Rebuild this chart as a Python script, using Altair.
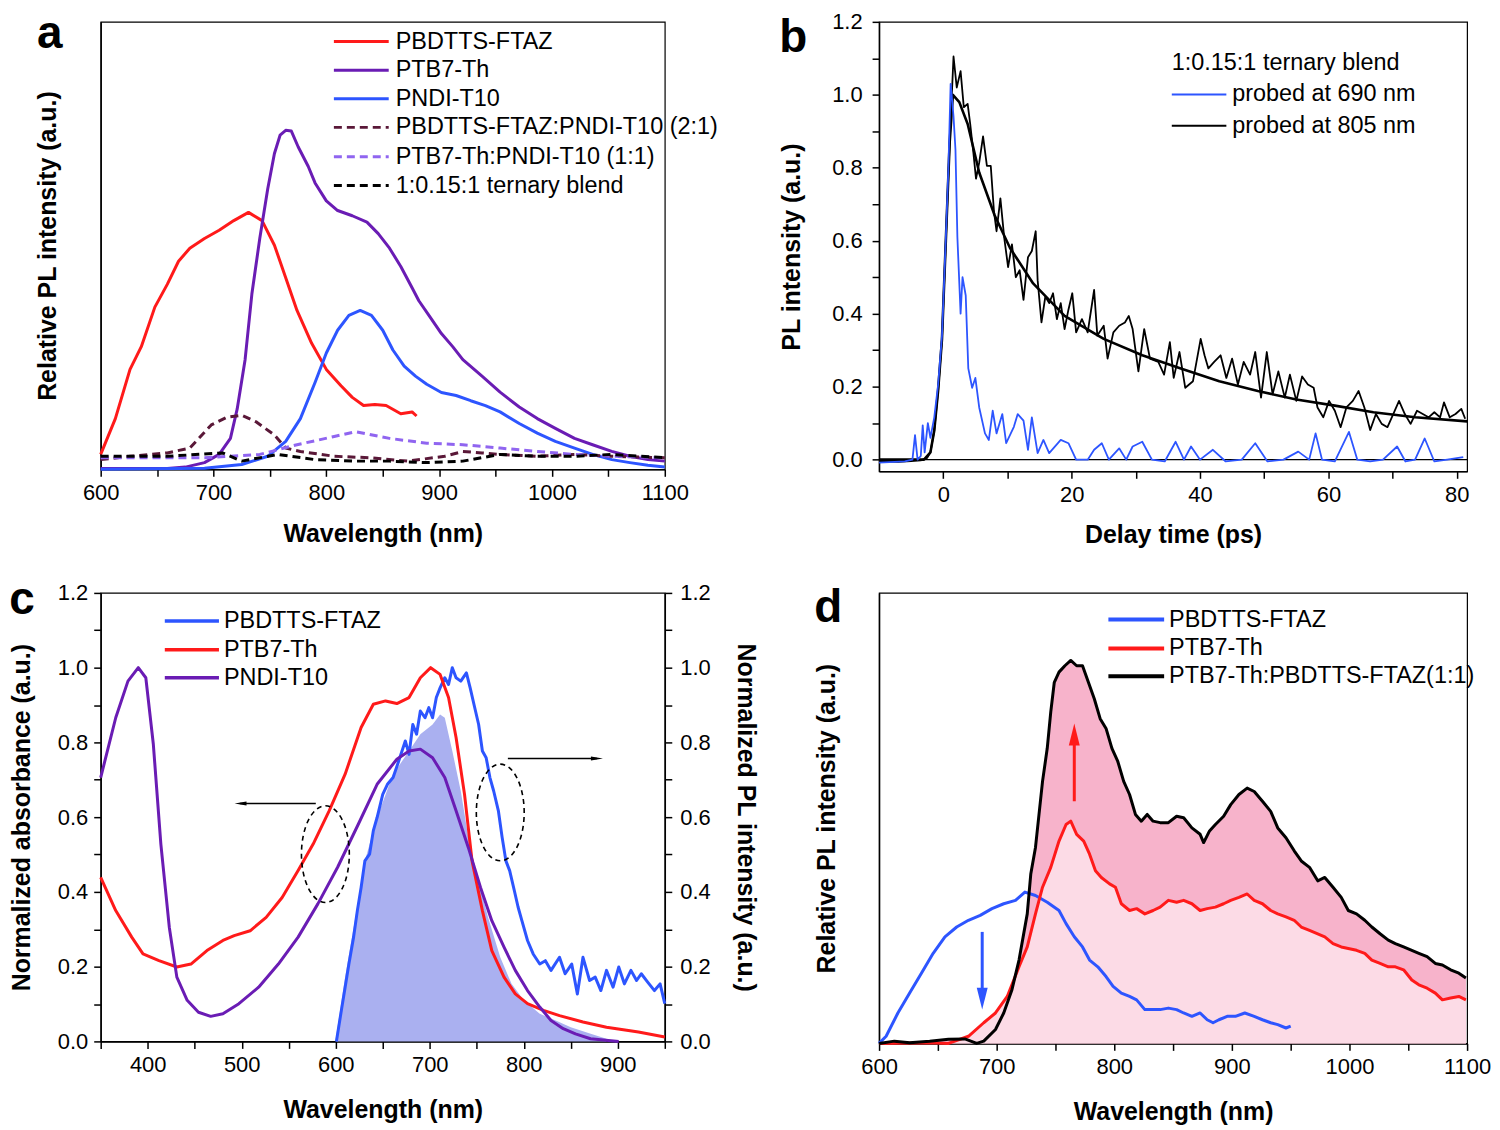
import altair as alt
import pandas as pd

FONT = "Liberation Sans"
RED = "#ff1a1a"
PURPLE = "#6a1cb4"
BLUE = "#2d55ff"
MAROON = "#5a1838"
LPURPLE = "#9065f0"
BLACK = "#000000"
PINK_DARK = "#f7b3cb"
PINK_LIGHT = "#fcdbe6"
LAVENDER = "#aab0f0"

# ---------------- panel a : PL spectra ----------------
A_FTAZ_X = [600, 613, 626, 636, 648, 659, 669, 679, 692, 705, 718, 731, 743, 754, 764, 774, 787, 800, 813, 823, 833, 843, 853, 866, 876, 880]
A_FTAZ_Y = [0.040, 0.136, 0.268, 0.329, 0.435, 0.496, 0.558, 0.593, 0.619, 0.641, 0.667, 0.689, 0.667, 0.601, 0.514, 0.426, 0.338, 0.268, 0.224, 0.193, 0.171, 0.174, 0.171, 0.149, 0.154, 0.143]

A_PTB_X = [600, 659, 675, 692, 705, 715, 721, 728, 734, 741, 748, 754, 759, 764, 769, 775, 784, 790, 800, 810, 823, 836, 846, 856, 866, 876, 882, 892, 902, 912, 921, 938, 954, 971, 987, 1003, 1020, 1036, 1053, 1069, 1085, 1100]
A_PTB_Y = [0.002, 0.002, 0.006, 0.018, 0.040, 0.083, 0.162, 0.294, 0.470, 0.619, 0.751, 0.847, 0.896, 0.909, 0.907, 0.865, 0.812, 0.768, 0.720, 0.694, 0.680, 0.663, 0.632, 0.593, 0.544, 0.487, 0.452, 0.408, 0.364, 0.329, 0.294, 0.250, 0.207, 0.167, 0.136, 0.110, 0.083, 0.066, 0.048, 0.035, 0.026, 0.022]

A_PNDI_X = [600, 692, 725, 748, 764, 777, 790, 800, 810, 820, 830, 840, 850, 859, 869, 879, 889, 902, 915, 928, 941, 954, 971, 987, 1003, 1020, 1036, 1053, 1069, 1085, 1100]
A_PNDI_Y = [0.0, 0.003, 0.013, 0.035, 0.075, 0.136, 0.233, 0.312, 0.373, 0.413, 0.426, 0.413, 0.373, 0.320, 0.277, 0.250, 0.228, 0.206, 0.198, 0.184, 0.171, 0.154, 0.123, 0.097, 0.075, 0.057, 0.040, 0.026, 0.018, 0.011, 0.006]

A_B21_X = [600, 626, 659, 679, 698, 712, 725, 738, 754, 764, 777, 807, 839, 872, 905, 921, 938, 954, 987, 1020, 1053, 1100]
A_B21_Y = [0.026, 0.035, 0.044, 0.057, 0.119, 0.140, 0.145, 0.127, 0.092, 0.057, 0.048, 0.035, 0.031, 0.022, 0.035, 0.048, 0.044, 0.040, 0.035, 0.040, 0.035, 0.031]

A_B11_X = [600, 692, 741, 774, 807, 826, 856, 889, 921, 954, 987, 1020, 1053, 1100]
A_B11_Y = [0.031, 0.031, 0.040, 0.066, 0.088, 0.101, 0.083, 0.070, 0.066, 0.057, 0.048, 0.040, 0.035, 0.031]

A_TER_X = [600, 659, 708, 725, 757, 790, 823, 856, 889, 921, 954, 987, 1020, 1053, 1100]
A_TER_Y = [0.035, 0.035, 0.044, 0.022, 0.040, 0.026, 0.022, 0.022, 0.018, 0.022, 0.040, 0.035, 0.035, 0.040, 0.031]

A_LABELS = ["PBDTTS-FTAZ", "PTB7-Th", "PNDI-T10", "PBDTTS-FTAZ:PNDI-T10 (2:1)", "PTB7-Th:PNDI-T10 (1:1)", "1:0.15:1 ternary blend"]

# ---------------- panel b : PL decay ----------------
B_805_T = [-10, -7, -5, -3.5, -2.5, -2.0, -1.4, -0.8, -0.2, 0.4,
           1.0, 1.6, 2.1, 2.7, 3.2, 3.8, 4.2, 4.7, 5.1, 5.6,
           6.2, 6.8, 7.4, 7.9, 8.3, 8.9, 9.5, 10.1, 10.7, 11.3,
           11.9, 12.5, 13.2, 13.8, 14.4, 14.7, 15.3, 15.9, 16.5, 17.1,
           17.7, 18.3, 18.9, 19.5, 20.1, 20.7, 21.6, 22.5, 23.5, 24.0,
           25.0, 25.6, 26.5, 27.4, 28.3, 28.9, 29.5, 30.4, 31.3, 32.2,
           33.5, 34.4, 35.3, 35.9, 36.8, 37.7, 38.9, 40.1, 40.7, 41.3,
           42.2, 43.2, 44.1, 45.0, 45.9, 46.8, 47.8, 48.6, 49.5, 50.4,
           51.3, 52.2, 53.2, 54.0, 55.0, 55.9, 56.8, 57.7, 58.3, 59.2,
           60.1, 61.0, 61.9, 62.8, 63.8, 64.7, 65.6, 66.5, 67.4, 68.3,
           69.2, 70.1, 71.0, 71.9, 72.8, 73.8, 74.7, 75.6, 76.5, 77.4,
           78.0, 78.9, 79.8, 80.7, 81.3]
B_805_V = [-0.005, -0.006, -0.004, -0.002, 0.005, 0.02, 0.08, 0.19, 0.33, 0.60,
           0.87, 1.105, 1.02, 1.065, 0.966, 0.975, 0.92, 0.84, 0.77, 0.814,
           0.886, 0.805, 0.805, 0.68, 0.626, 0.716, 0.608, 0.528, 0.59, 0.5,
           0.519, 0.438, 0.555, 0.572, 0.626, 0.492, 0.376, 0.447, 0.429, 0.456,
           0.385, 0.429, 0.358, 0.411, 0.456, 0.349, 0.385, 0.349, 0.465, 0.34,
           0.367, 0.277, 0.349, 0.367, 0.376, 0.394, 0.358, 0.242, 0.358, 0.277,
           0.268, 0.233, 0.322, 0.224, 0.295, 0.197, 0.215, 0.331, 0.286, 0.25,
           0.268, 0.286, 0.224, 0.277, 0.206, 0.268, 0.233, 0.295, 0.17, 0.295,
           0.179, 0.242, 0.17, 0.233, 0.161, 0.228, 0.206, 0.197, 0.143, 0.116,
           0.161, 0.134, 0.089, 0.143, 0.161, 0.188, 0.143, 0.081, 0.125, 0.098,
           0.089, 0.125, 0.161, 0.125, 0.098, 0.134, 0.125, 0.116, 0.13, 0.116,
           0.157, 0.116, 0.125, 0.139, 0.112]

B_FIT_T = [-10, -3, -2, -1.4, -0.8, -0.2, 0.4, 1.0, 1.5, 2.5, 3.8, 5.6, 8, 10.4, 14, 18.9, 25, 31, 37, 43, 49, 55, 61, 67, 73.5, 81.6]
B_FIT_V = [0, 0, 0.02, 0.08, 0.19, 0.33, 0.6, 0.87, 1.0, 0.98, 0.92, 0.787, 0.67, 0.58, 0.483, 0.394, 0.331, 0.286, 0.25, 0.215, 0.188, 0.165, 0.148, 0.13, 0.116, 0.105]

B_690_T = [-10, -6, -4.8, -4.4, -4.0, -3.5, -3.2, -2.9, -2.4, -2.0,
           -1.4, -0.8, -0.2, 0.4, 0.8, 1.15, 1.6, 1.9, 2.2, 2.7,
           3.0, 3.5, 3.9, 4.5, 5.0, 5.6, 6.5, 7.1, 7.7, 8.3,
           9.2, 9.8, 11.0, 11.6, 12.5, 13.2, 13.8, 14.7, 15.6, 16.5,
           18.3, 19.5, 20.7, 22.5, 23.5, 24.7, 25.8, 27.4, 28.5, 29.5,
           31.0, 32.5, 34.5, 36.2, 37.5, 38.6, 40.0, 42.0, 44.0, 46.5,
           48.6, 50.5, 53.0, 55.3, 57.0, 58.0, 59.0, 61.0, 63.2, 64.5,
           66.5, 68.5, 70.7, 72.0, 73.5, 75.0, 76.5, 78.5, 81.0]
B_690_V = [-0.008, -0.005, 0.0, 0.067, 0.0, 0.01, 0.094, 0.02, 0.1, 0.06,
           0.116, 0.206, 0.34, 0.608, 0.8, 1.03, 0.94, 0.85, 0.61, 0.40,
           0.50, 0.45, 0.25, 0.197, 0.224, 0.143, 0.072, 0.054, 0.134, 0.072,
           0.125, 0.045, 0.09, 0.125, 0.107, 0.027, 0.116, 0.018, 0.054, 0.018,
           0.054, 0.045, 0.0, 0.0, 0.027, 0.045, 0.0, 0.031, 0.0, 0.036,
           0.049, 0.0, -0.005, 0.049, 0.0, 0.036, 0.0, 0.027, -0.005, 0.0,
           0.045, -0.005, 0.0, 0.022, 0.0, 0.072, 0.0, -0.005, 0.076, 0.0,
           -0.005, 0.0, 0.036, -0.005, 0.0, 0.058, -0.005, 0.0, 0.007]

B_TITLE = "1:0.15:1 ternary blend"
B_LABELS = ["probed at 690 nm", "probed at 805 nm"]

# ---------------- panel c : absorbance and PL ----------------
C_PTB_X = [350, 366, 383, 395, 412, 431, 446, 463, 480, 492, 509, 526, 543, 560, 576, 593, 610, 627, 640, 653,
           665, 678, 690, 701, 711, 720, 728, 737, 745, 756, 766, 779, 791, 804, 821, 838, 863, 888, 922, 950]
C_PTB_Y = [0.439, 0.35, 0.279, 0.234, 0.216, 0.199, 0.207, 0.243, 0.27, 0.283, 0.296, 0.332, 0.385, 0.457, 0.528, 0.617, 0.715, 0.84, 0.902, 0.911,
           0.904, 0.92, 0.973, 1.0, 0.982, 0.92, 0.813, 0.661, 0.483, 0.35, 0.243, 0.172, 0.127, 0.101, 0.083, 0.069, 0.052, 0.038, 0.025, 0.012]

C_PNDI_X = [350, 366, 379, 390, 398, 406, 414, 423, 431, 442, 454, 467, 480, 497, 518, 539, 560, 581, 602, 624,
            644, 665, 678, 690, 703, 716, 728, 741, 754, 766, 779, 791, 804, 817, 829, 842, 855, 871, 901]
C_PNDI_Y = [0.706, 0.866, 0.964, 1.0, 0.973, 0.795, 0.528, 0.305, 0.172, 0.11, 0.078, 0.067, 0.074, 0.101, 0.145, 0.207, 0.279, 0.368, 0.466, 0.581,
            0.688, 0.755, 0.777, 0.782, 0.759, 0.706, 0.617, 0.519, 0.412, 0.323, 0.252, 0.19, 0.136, 0.092, 0.056, 0.034, 0.02, 0.007, 0.0]

C_PL_X = [600.7, 606, 610, 614, 619, 623, 627, 631, 636, 640, 644, 650, 655, 661, 667, 674, 678, 682, 686, 690,
          695, 699, 703, 707, 711, 716, 720, 724, 728, 733, 739, 743, 747, 752, 756, 760, 764, 768, 773, 777,
          781, 785, 790, 794, 798, 804, 810, 817, 823, 829, 838, 844, 851, 857, 863, 870, 876, 882, 888, 895,
          901, 907, 914, 920, 925, 932, 939, 945, 950]
C_PL_Y = [0, 0.083, 0.145, 0.207, 0.279, 0.35, 0.412, 0.483, 0.501, 0.564, 0.599, 0.661, 0.688, 0.706, 0.75, 0.804, 0.768, 0.848, 0.822, 0.884,
          0.866, 0.893, 0.866, 0.92, 0.946, 0.973, 0.955, 1.0, 0.973, 0.964, 0.986, 0.946, 0.902, 0.848, 0.777, 0.759, 0.706, 0.67, 0.617, 0.546,
          0.483, 0.457, 0.403, 0.359, 0.323, 0.27, 0.234, 0.207, 0.216, 0.19, 0.225, 0.181, 0.207, 0.127, 0.225, 0.163, 0.172, 0.136, 0.19, 0.145,
          0.199, 0.154, 0.19, 0.163, 0.181, 0.158, 0.136, 0.154, 0.101]

C_FILL_X = [600, 610, 619, 631, 644, 661, 678, 690, 703, 711, 716, 724, 733, 741, 749, 762, 775, 787, 800, 817, 834, 850, 872, 888]
C_FILL_Y = [0.007, 0.172, 0.305, 0.483, 0.599, 0.715, 0.777, 0.822, 0.848, 0.875, 0.866, 0.777, 0.67, 0.546, 0.457, 0.332, 0.225, 0.154, 0.11, 0.074, 0.056, 0.038, 0.02, 0.007]

C_LABELS = ["PBDTTS-FTAZ", "PTB7-Th", "PNDI-T10"]
C_ELL_X = [589, 775]
C_ELL_Y = [0.501, 0.6125]

# ---------------- panel d : PL spectra ----------------
D_BLEND_X = [600, 613, 626, 643, 659, 673, 683, 689, 699, 706, 713, 719, 726, 729, 733, 736, 739, 743, 746, 749,
             753, 758, 763, 768, 773, 778, 783, 788, 793, 798, 803, 808, 813, 818, 823, 828, 833, 839, 846, 853,
             859, 866, 873, 876, 881, 886, 893, 899, 906, 913, 919, 926, 933, 939, 946, 953, 959, 966, 973, 979,
             986, 993, 999, 1006, 1013, 1019, 1026, 1033, 1039, 1046, 1053, 1059, 1066, 1073, 1079, 1086, 1093, 1099]
D_BLEND_Y = [0, 0.006, 0.002, 0.006, 0.011, 0.012, 0.0, 0.006, 0.037, 0.081, 0.143, 0.222, 0.345, 0.451, 0.522, 0.61, 0.698, 0.786, 0.883, 0.962,
             0.989, 1.006, 1.02, 1.006, 1.006, 0.962, 0.918, 0.865, 0.839, 0.786, 0.751, 0.698, 0.663, 0.61, 0.592, 0.61, 0.592, 0.588, 0.588, 0.605,
             0.601, 0.574, 0.557, 0.535, 0.566, 0.583, 0.605, 0.636, 0.663, 0.68, 0.671, 0.645, 0.618, 0.574, 0.548, 0.513, 0.486, 0.469, 0.433, 0.442,
             0.416, 0.389, 0.354, 0.345, 0.328, 0.31, 0.292, 0.275, 0.266, 0.257, 0.248, 0.24, 0.231, 0.213, 0.209, 0.196, 0.187, 0.174]

D_PTB_X = [600, 643, 659, 676, 689, 699, 709, 719, 726, 733, 739, 746, 753, 759, 763, 768, 774, 779, 784, 789,
           796, 801, 806, 813, 819, 826, 833, 839, 846, 853, 859, 866, 873, 879, 886, 893, 899, 906, 913, 919,
           926, 933, 939, 946, 953, 959, 966, 973, 979, 986, 993, 999, 1006, 1013, 1019, 1026, 1033, 1039, 1046, 1053,
           1059, 1066, 1073, 1079, 1086, 1093, 1099]
D_PTB_Y = [0, 0.002, 0.0, 0.019, 0.055, 0.081, 0.125, 0.204, 0.257, 0.345, 0.416, 0.469, 0.539, 0.583, 0.592, 0.557, 0.539, 0.504, 0.46, 0.442,
           0.425, 0.416, 0.372, 0.354, 0.359, 0.345, 0.354, 0.363, 0.381, 0.376, 0.381, 0.372, 0.354, 0.359, 0.363, 0.372, 0.381, 0.389, 0.398, 0.381,
           0.372, 0.354, 0.345, 0.337, 0.328, 0.31, 0.301, 0.292, 0.284, 0.266, 0.257, 0.253, 0.248, 0.24, 0.222, 0.213, 0.204, 0.204, 0.196, 0.169,
           0.156, 0.147, 0.134, 0.116, 0.121, 0.125, 0.116]

D_FTAZ_X = [600, 606, 616, 626, 636, 646, 656, 666, 676, 686, 696, 706, 716, 724, 733, 743, 753, 759, 766, 773,
            779, 786, 793, 799, 806, 813, 819, 826, 833, 839, 846, 853, 859, 866, 873, 879, 884, 889, 896, 903,
            911, 919, 926, 933, 939, 946, 950]
D_FTAZ_Y = [0, 0.019, 0.081, 0.134, 0.187, 0.24, 0.284, 0.31, 0.328, 0.341, 0.359, 0.372, 0.381, 0.403, 0.394, 0.376, 0.354, 0.319, 0.284, 0.257,
            0.222, 0.204, 0.178, 0.152, 0.134, 0.125, 0.116, 0.09, 0.09, 0.09, 0.094, 0.09, 0.081, 0.072, 0.081, 0.063, 0.055, 0.063, 0.072, 0.072,
            0.081, 0.072, 0.063, 0.055, 0.05, 0.041, 0.046]

D_LABELS = ["PBDTTS-FTAZ", "PTB7-Th", "PTB7-Th:PBDTTS-FTAZ(1:1)"]

# ---------------- helpers ----------------
TICK01 = [0.0, 0.1, 0.2, 0.3, 0.4, 0.5, 0.6, 0.7, 0.8, 0.9, 1.0, 1.1, 1.2]
LAB02 = "abs(round(datum.value * 10) % 2) === 0 ? format(datum.value, '.1f') : ''"
LEG_SIZE = 23.5

ELLIPSE = "M 0 -1 A 0.495 1 0 1 1 0 1 A 0.495 1 0 1 1 0 -1 Z"
HEAD_L = "M -1 0 L 1 -0.35 L 1 0.35 Z"
HEAD_R = "M 1 0 L -1 -0.35 L -1 0.35 Z"
HEAD_U = "M 0 -1 L 0.5 1 L -0.5 1 Z"
HEAD_D = "M 0 1 L 0.5 -1 L -0.5 -1 Z"


def curve(xs, ys, X, Y, color, width, dash=None):
    kw = dict(color=color, strokeWidth=width, strokeJoin="round")
    if dash:
        kw["strokeDash"] = dash
    return alt.Chart(pd.DataFrame({"x": xs, "y": ys})).mark_line(**kw).encode(x=X, y=Y)


def area(xs, ys, X, Y, color):
    return alt.Chart(pd.DataFrame({"x": xs, "y": ys})).mark_area(color=color, opacity=1).encode(x=X, y=Y)


def hseg(x0, x1, y, X, Y, color, width, dash=None):
    kw = dict(color=color, strokeWidth=width)
    if dash:
        kw["strokeDash"] = dash
    df = pd.DataFrame({"x": [x0], "x2": [x1], "y": [y]})
    return alt.Chart(df).mark_rule(**kw).encode(x=X, x2="x2:Q", y=Y)


def vseg(x, y0, y1, X, Y, color, width):
    df = pd.DataFrame({"x": [x], "y": [y0], "y2": [y1]})
    return alt.Chart(df).mark_rule(color=color, strokeWidth=width).encode(x=X, y=Y, y2="y2:Q")


def texts(xs, ys, labels, X, Y, size=LEG_SIZE, align="left"):
    df = pd.DataFrame({"x": xs, "y": ys, "t": labels})
    return alt.Chart(df).mark_text(align=align, baseline="middle", font=FONT, fontSize=size,
                                   color="black").encode(x=X, y=Y, text="t:N")


def head(x, y, X, Y, shape, size, color, dx=0, dy=0):
    df = pd.DataFrame({"x": [x], "y": [y]})
    return alt.Chart(df).mark_point(shape=shape, size=size, filled=True, color=color, opacity=1,
                                    strokeWidth=0, xOffset=dx, yOffset=dy).encode(x=X, y=Y)


def letter(t, dx, dy):
    return alt.Chart(pd.DataFrame({"t": [t]})).mark_text(
        font=FONT, fontSize=46, fontWeight="bold", align="center", baseline="alphabetic", color="black"
    ).encode(x=alt.value(dx), y=alt.value(dy), text="t:N")


def wl_axis(lo, hi, pad):
    return alt.X("x:Q", scale=alt.Scale(domain=[lo, hi], nice=False, zero=False),
                 axis=alt.Axis(title="Wavelength (nm)", values=list(range(lo, hi + 1, 50)),
                               labelExpr="datum.value % 100 === 0 ? datum.label : ''", format="d",
                               titlePadding=pad))


# ---------------- panel a ----------------
Xa = wl_axis(600, 1100, 18)
Ya = alt.Y("y:Q", scale=alt.Scale(domain=[0, 1.2], nice=False),
           axis=alt.Axis(title="Relative PL intensity (a.u.)", labels=False, ticks=False, titlePadding=40))
a_rows = [1.147, 1.070, 0.994, 0.917, 0.838, 0.761]
a_cols = [RED, PURPLE, BLUE, MAROON, LPURPLE, BLACK]
a_dash = [None, None, None, [8, 5], [8, 5], [8, 5]]
a_leg = [hseg(806.7, 855.3, yy, Xa, Ya, c, 3, d) for yy, c, d in zip(a_rows, a_cols, a_dash)]
panel_a = alt.layer(
    curve(A_FTAZ_X, A_FTAZ_Y, Xa, Ya, RED, 3),
    curve(A_PTB_X, A_PTB_Y, Xa, Ya, PURPLE, 3),
    curve(A_PNDI_X, A_PNDI_Y, Xa, Ya, BLUE, 3),
    curve(A_B21_X, A_B21_Y, Xa, Ya, MAROON, 3, [8, 5]),
    curve(A_B11_X, A_B11_Y, Xa, Ya, LPURPLE, 3, [8, 5]),
    curve(A_TER_X, A_TER_Y, Xa, Ya, BLACK, 3, [8, 5]),
    *a_leg,
    texts([861.5] * 6, a_rows, A_LABELS, Xa, Ya),
    letter("a", -51, 26),
).properties(width=566, height=449)

# ---------------- panel b ----------------
Xb = alt.X("x:Q", scale=alt.Scale(domain=[-10, 81.6], nice=False, zero=False),
           axis=alt.Axis(title="Delay time (ps)", values=list(range(0, 81, 10)),
                         labelExpr="datum.value % 20 === 0 ? datum.label : ''", format="d", titlePadding=17))
Yb = alt.Y("y:Q", scale=alt.Scale(domain=[-0.032, 1.2], nice=False, zero=False),
           axis=alt.Axis(title="PL intensity (a.u.)", values=TICK01, labelExpr=LAB02,
                         labelPadding=10, titlePadding=27))
zero_line = alt.Chart(pd.DataFrame({"y": [0.0]})).mark_rule(color="black", strokeWidth=1.2).encode(y=Yb)
panel_b = alt.layer(
    zero_line,
    curve(B_805_T, B_805_V, Xb, Yb, BLACK, 1.8),
    curve(B_FIT_T, B_FIT_V, Xb, Yb, BLACK, 2.6),
    curve(B_690_T, B_690_V, Xb, Yb, BLUE, 1.8),
    hseg(35.6, 44.1, 1.001, Xb, Yb, BLUE, 2),
    hseg(35.6, 44.1, 0.915, Xb, Yb, BLACK, 2),
    texts([35.6], [1.087], [B_TITLE], Xb, Yb),
    texts([45.0, 45.0], [1.001, 0.915], B_LABELS, Xb, Yb),
    letter("b", -86, 30),
).properties(width=590, height=451)

# ---------------- panel c ----------------
Xc = wl_axis(350, 950, 22)
Ycl = alt.Y("y:Q", scale=alt.Scale(domain=[0, 1.2], nice=False),
            axis=alt.Axis(title="Normalized absorbance (a.u.)", values=TICK01, labelExpr=LAB02, titlePadding=23))
Ycr = alt.Y("y:Q", scale=alt.Scale(domain=[0, 1.2], nice=False),
            axis=alt.Axis(orient="right", title="Normalized PL intensity (a.u.)", values=TICK01,
                          labelExpr=LAB02, labelPadding=8, titlePadding=22))
c_right = alt.layer(
    area(C_FILL_X, C_FILL_Y, Xc, Ycr, LAVENDER),
    curve(C_PL_X, C_PL_Y, Xc, Ycr, BLUE, 3),
)
c_rows = [1.125, 1.048, 0.973]
ellipses = alt.Chart(pd.DataFrame({"x": C_ELL_X, "y": C_ELL_Y})).mark_point(
    shape=ELLIPSE, size=9409, filled=False, stroke="black", strokeWidth=1.6, strokeDash=[5, 4], opacity=1
).encode(x=Xc, y=Ycl)
c_left = alt.layer(
    curve(C_PTB_X, C_PTB_Y, Xc, Ycl, RED, 3),
    curve(C_PNDI_X, C_PNDI_Y, Xc, Ycl, PURPLE, 3),
    *[hseg(418.2, 475.8, yy, Xc, Ycl, c, 3.5) for yy, c in zip(c_rows, [BLUE, RED, PURPLE])],
    texts([481.1] * 3, c_rows, C_LABELS, Xc, Ycl),
    ellipses,
    hseg(498, 578.8, 0.6365, Xc, Ycl, BLACK, 1.6),
    head(492.4, 0.6365, Xc, Ycl, HEAD_L, 144, BLACK, dx=6),
    hseg(783.1, 878, 0.757, Xc, Ycl, BLACK, 1.6),
    head(884.2, 0.757, Xc, Ycl, HEAD_R, 144, BLACK, dx=-6),
    letter("c", -79, 21),
)
panel_c = alt.layer(c_right, c_left).resolve_scale(y="independent").properties(width=566, height=450)

# ---------------- panel d ----------------
Xd = wl_axis(600, 1100, 22)
Yd = alt.Y("y:Q", scale=alt.Scale(domain=[0, 1.2], nice=False),
           axis=alt.Axis(title="Relative PL intensity (a.u.)", labels=False, ticks=False, titlePadding=40))
d_rows = [1.129, 1.052, 0.978]
panel_d = alt.layer(
    area(D_BLEND_X, D_BLEND_Y, Xd, Yd, PINK_DARK),
    area(D_PTB_X, D_PTB_Y, Xd, Yd, PINK_LIGHT),
    curve(D_FTAZ_X, D_FTAZ_Y, Xd, Yd, BLUE, 3),
    curve(D_PTB_X, D_PTB_Y, Xd, Yd, RED, 3),
    curve(D_BLEND_X, D_BLEND_Y, Xd, Yd, BLACK, 3),
    vseg(766, 0.645, 0.815, Xd, Yd, RED, 3),
    head(766, 0.852, Xd, Yd, HEAD_U, 484, RED, dy=11),
    vseg(687.7, 0.297, 0.125, Xd, Yd, BLUE, 3),
    head(687.7, 0.09, Xd, Yd, HEAD_D, 484, BLUE, dy=-11),
    *[hseg(795, 842.4, yy, Xd, Yd, c, 4) for yy, c in zip(d_rows, [BLUE, RED, BLACK])],
    texts([846.6] * 3, d_rows, D_LABELS, Xd, Yd),
    letter("d", -51, 29),
).properties(width=590, height=452)

row1 = alt.hconcat(panel_a, panel_b, spacing=215, bounds="flush")
row2 = alt.hconcat(panel_c, panel_d, spacing=215, bounds="flush")

chart = (
    alt.vconcat(row1, row2, spacing=28)
    .properties(padding={"left": 0, "top": 0, "right": 0, "bottom": 0}, background="white")
    .configure_axis(
        labelFont=FONT, titleFont=FONT, labelFontSize=22, titleFontSize=25, titleFontWeight="bold",
        labelColor="black", titleColor="black", domainColor="black", tickColor="black",
        domainWidth=1.5, tickWidth=1.5, tickSize=7, labelPadding=6, grid=False,
        labelFlush=False, labelOverlap=False,
    )
    .configure_view(stroke="black", strokeWidth=1.2)
)

chart.save("out.html", embed_options={"renderer": "svg", "actions": False})
